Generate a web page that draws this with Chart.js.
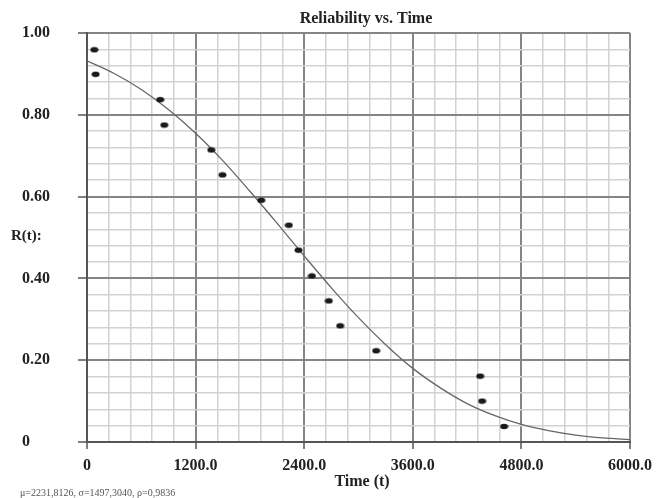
<!DOCTYPE html>
<html>
<head>
<meta charset="utf-8">
<script src="https://cdn.jsdelivr.net/npm/chart.js@4/dist/chart.umd.min.js"></script>
<style>
  html, body { margin: 0; padding: 0; background: #fff; }
  #wrap { position: relative; width: 665px; height: 498px; }
</style>
</head>
<body>
<div id="wrap"><canvas id="chart" width="665" height="498"></canvas></div>
<script>
// observed points (time, reliability)
const obsTime = [81, 95, 809, 854, 1373, 1497, 1925, 2230, 2337, 2485, 2672, 2797, 3195, 4344, 4366, 4609];
const obsRel = [0.959, 0.899, 0.837, 0.775, 0.714, 0.653, 0.591, 0.530, 0.469, 0.406, 0.345, 0.284, 0.223, 0.161, 0.100, 0.038];

// fitted curve
const fitTime = [0, 300, 600, 900, 1200, 1500, 1800, 2100, 2400, 2700, 3000, 3300, 3600, 3900, 4200, 4500, 4800, 5100, 5400, 5700, 6000];
const fitRel = [0.932, 0.901, 0.862, 0.813, 0.755, 0.688, 0.613, 0.535, 0.455, 0.377, 0.304, 0.238, 0.180, 0.133, 0.094, 0.065, 0.043, 0.028, 0.017, 0.010, 0.006];

const titleText = 'Reliability vs. Time';
const xTitle = 'Time (t)';
const yTitle = 'R(t):';
const paramText = 'μ=2231,8126, σ=1497,3040, ρ=0,9836';

const SERIF = '"Liberation Serif", "DejaVu Serif", serif';

// small ellipse used as point marker
const dot = document.createElement('canvas');
dot.width = 9; dot.height = 7;
(function () {
  const c = dot.getContext('2d');
  c.fillStyle = '#1a1a1a';
  c.beginPath();
  c.ellipse(4.5, 3.5, 4, 2.8, 0, 0, Math.PI * 2);
  c.fill();
})();

const isMajorX = v => Math.round(v) % 1200 === 0;
const isMajorY = v => Math.round(v * 100) % 20 === 0;

const textPlugin = {
  id: 'extraText',
  afterDraw(chart) {
    const ctx = chart.ctx;
    ctx.save();
    ctx.fillStyle = '#222';
    ctx.textBaseline = 'middle';
    ctx.textAlign = 'center';
    ctx.font = 'bold 16px ' + SERIF;
    ctx.fillText(titleText, 366, 19);
    ctx.font = 'bold 16px ' + SERIF;
    ctx.fillText(xTitle, 362, 482);
    ctx.textAlign = 'left';
    ctx.font = 'bold 15px ' + SERIF;
    ctx.fillText(yTitle, 11, 236);
    ctx.fillStyle = '#555';
    ctx.font = '10px ' + SERIF;
    ctx.fillText(paramText, 20, 493);
    ctx.restore();
  }
};

new Chart(document.getElementById('chart'), {
  type: 'scatter',
  data: {
    datasets: [
      {
        label: 'Fit',
        data: fitTime.map((t, i) => ({ x: t, y: fitRel[i] })),
        showLine: true,
        borderColor: '#666',
        borderWidth: 1.3,
        pointRadius: 0,
        cubicInterpolationMode: 'monotone',
        order: 2
      },
      {
        label: 'Data',
        data: obsTime.map((t, i) => ({ x: t, y: obsRel[i] })),
        pointStyle: dot,
        pointRadius: 4,
        showLine: false,
        order: 1
      }
    ]
  },
  options: {
    responsive: false,
    animation: false,
    layout: { padding: { top: 33, right: 35, left: 22, bottom: 0 } },
    plugins: {
      legend: { display: false },
      tooltip: { enabled: false }
    },
    scales: {
      x: {
        type: 'linear',
        min: 0,
        max: 6000,
        afterFit(scale) { scale.height = 56; },
        ticks: {
          stepSize: 240,
          autoSkip: false,
          maxRotation: 0,
          padding: 7,
          color: '#222',
          font: { family: SERIF, size: 16, weight: 'bold' },
          callback: v => isMajorX(v) ? (v === 0 ? '0' : v.toFixed(1)) : ''
        },
        grid: {
          color: c => isMajorX(c.tick.value) ? '#858585' : '#d2d2d2',
          lineWidth: c => isMajorX(c.tick.value) ? 2 : 1.5,
          tickColor: c => isMajorX(c.tick.value) ? '#555' : 'rgba(0,0,0,0)',
          tickLength: 7,
          tickWidth: 1.5
        },
        border: { color: '#555', width: 2 }
      },
      y: {
        type: 'linear',
        min: 0,
        max: 1,
        afterFit(scale) { scale.width = 65; },
        ticks: {
          stepSize: 0.04,
          autoSkip: false,
          crossAlign: 'far',
          color: '#222',
          font: { family: SERIF, size: 16, weight: 'bold' },
          callback: v => isMajorY(v) ? (v === 0 ? '0' : v.toFixed(2)) : ''
        },
        grid: {
          color: c => isMajorY(c.tick.value) ? '#858585' : '#d2d2d2',
          lineWidth: c => isMajorY(c.tick.value) ? 2 : 1.5,
          tickColor: c => isMajorY(c.tick.value) ? '#555' : 'rgba(0,0,0,0)',
          tickLength: 9,
          tickWidth: 1.5
        },
        border: { color: '#555', width: 2 }
      }
    }
  },
  plugins: [textPlugin]
});
</script>
</body>
</html>
